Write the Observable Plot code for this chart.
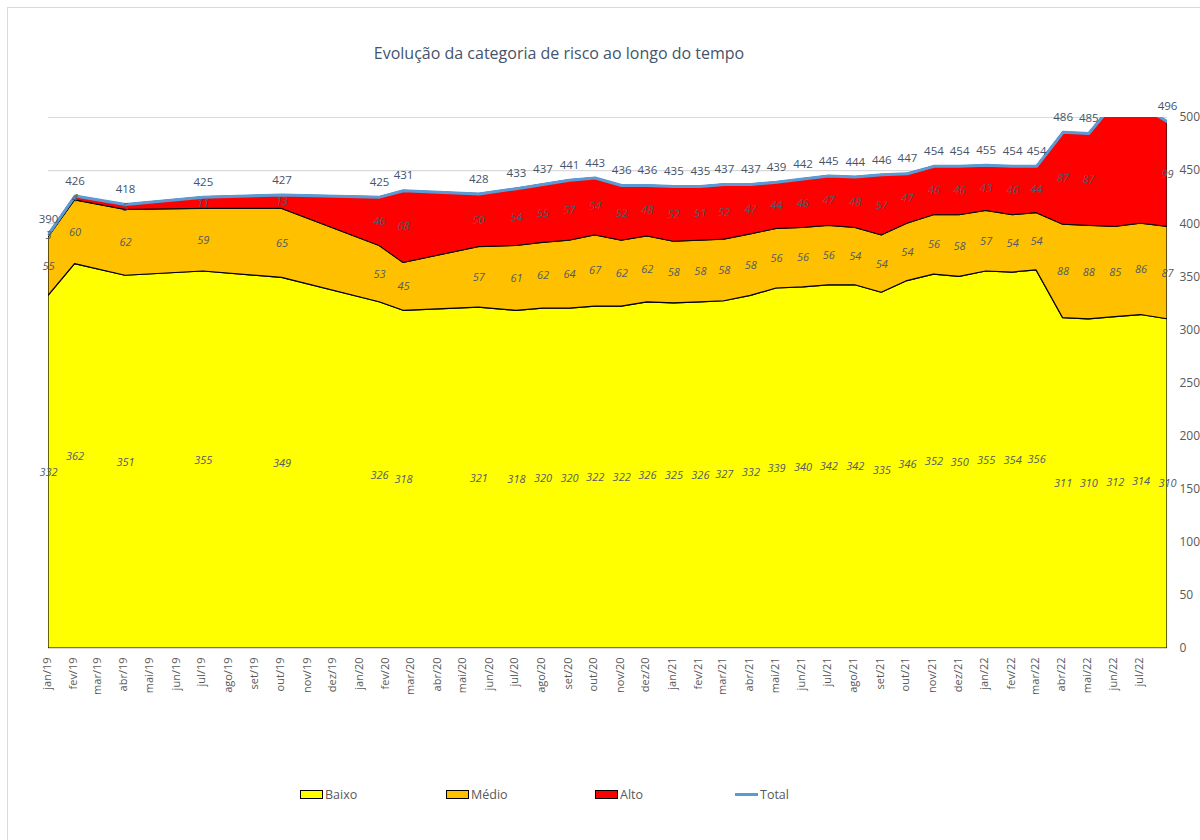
<!DOCTYPE html>
<html>
<head>
<meta charset="utf-8">
<script src="https://cdn.jsdelivr.net/npm/d3@7"></script>
<script src="https://cdn.jsdelivr.net/npm/@observablehq/plot@0.6"></script>
<style>
  html, body { margin: 0; padding: 0; background: #fff; }
  #wrap { position: relative; width: 1200px; height: 840px; overflow: hidden; font-family: "Open Sans", sans-serif; }
  #frame { position: absolute; left: 7px; top: 7px; width: 1300px; height: 900px; border: 1px solid #d9d9d9; box-sizing: border-box; }
  #title { position: absolute; left: 0; width: 1118px; top: 42px; text-align: center; font-size: 16px; color: #44546a; }
  #chart { position: absolute; left: 0; top: 0; }
  .leg { position: absolute; top: 786px; font-size: 12.5px; color: #595959; display: flex; align-items: center; }
  .sw { width: 21px; height: 7px; border: 1px solid #000; margin-right: 2px; }
  .ln { width: 23px; height: 3px; background: #5b9bd5; margin-right: 2px; }
</style>
</head>
<body>
<div id="wrap">
  <div id="frame"></div>
  <div id="chart"></div>
  <div id="title">Evolução da categoria de risco ao longo do tempo</div>
  <div class="leg" style="left:300px"><div class="sw" style="background:#ffff00"></div>Baixo</div>
  <div class="leg" style="left:446px"><div class="sw" style="background:#ffc000"></div>Médio</div>
  <div class="leg" style="left:595px"><div class="sw" style="background:#ff0000"></div>Alto</div>
  <div class="leg" style="left:735px"><div class="ln"></div>Total</div>
</div>
<script>
const dates = [
  "2019-01-01","2019-02-01","2019-04-01","2019-07-01","2019-10-01",
  "2020-01-23","2020-02-20","2020-05-18",
  "2020-07-01","2020-08-01","2020-09-01","2020-10-01","2020-11-01","2020-12-01",
  "2021-01-01","2021-02-01","2021-03-01","2021-04-01","2021-05-01","2021-06-01",
  "2021-07-01","2021-08-01","2021-09-01","2021-10-01","2021-11-01","2021-12-01",
  "2022-01-01","2022-02-01","2022-03-01","2022-04-01","2022-05-01","2022-06-01","2022-07-01","2022-08-01"
];
const baixo = [332,362,351,355,349,326,318,321, 318,320,320,322,322,326, 325,326,327,332,339,340,342,342,335,346,352,350, 355,354,356,311,310,312,314,310];
const medio = [55,60,62,59,65,53,45,57, 61,62,64,67,62,62, 58,58,58,58,56,56,56,54,54,54,56,58, 57,54,54,88,88,85,86,87];
const alto  = [3,4,5,11,13,46,68,50, 54,55,57,54,52,48, 52,51,52,47,44,46,47,48,57,47,46,46, 43,46,44,87,87,118,111,99];
const total = [390,426,418,425,427,425,431,428, 433,437,441,443,436,436, 435,435,437,437,439,442,445,444,446,447,454,454, 455,454,454,486,485,515,511,496];

const monthNames = ["jan","fev","mar","abr","mai","jun","jul","ago","set","out","nov","dez"];
const yTicks = [0,50,100,150,200,250,300,350,400,450,500];
const xStart = "2019-01-01", xEnd = "2022-08-01";

const rows = dates.map((d, i) => ({
  date: new Date(d + "T00:00:00Z"),
  b: baixo[i], m: medio[i], a: alto[i], t: total[i]
}));
const monthTicks = d3.utcMonth.range(new Date(xStart + "T00:00:00Z"), new Date(xEnd + "T00:00:00Z"));
const fmtMonth = d => monthNames[d.getUTCMonth()] + "/" + String(d.getUTCFullYear()).slice(2);

const labelFont = {fontFamily: "Open Sans", fontSize: 11};
const bandText = {fill: "#505a6b", fontStyle: "italic", ...labelFont};
const visible = rows.filter(r => r.t <= 500);

const chart = Plot.plot({
  width: 1200,
  height: 840,
  marginLeft: 48,
  marginRight: 33,
  marginTop: 117,
  marginBottom: 192,
  x: {type: "utc", domain: [new Date(xStart + "T00:00:00Z"), new Date(xEnd + "T00:00:00Z")], axis: null},
  y: {domain: [0, 500], axis: null},
  style: {background: "transparent", fontFamily: "Open Sans"},
  marks: [
    Plot.ruleY(yTicks, {stroke: "#d9d9d9", strokeWidth: 1.2}),
    Plot.areaY(rows, {x: "date", y1: 0, y2: "b", fill: "#ffff00", stroke: "#000", strokeWidth: 1.2, clip: true}),
    Plot.areaY(rows, {x: "date", y1: "b", y2: r => r.b + r.m, fill: "#ffc000", stroke: "#000", strokeWidth: 1.2, clip: true}),
    Plot.areaY(rows, {x: "date", y1: r => r.b + r.m, y2: "t", fill: "#ff0000", stroke: "#000", strokeWidth: 1, clip: true}),
    Plot.lineY(rows, {x: "date", y: "t", stroke: "#5b9bd5", strokeWidth: 3, clip: true}),
    Plot.text(rows, {x: "date", y: r => r.b / 2, text: r => String(r.b), ...bandText}),
    Plot.text(rows, {x: "date", y: r => r.b + r.m / 2, text: r => String(r.m), ...bandText}),
    Plot.text(visible, {x: "date", y: r => r.b + r.m + r.a / 2, text: r => String(r.a), ...bandText}),
    Plot.text(visible, {x: "date", y: "t", dy: -15, text: r => String(r.t), fill: "#44546a", ...labelFont, fontSize: 11.5}),
    Plot.text(yTicks, {y: d => d, frameAnchor: "right", dx: 12, textAnchor: "start", text: d => String(d), fill: "#595959", fontFamily: "Open Sans", fontSize: 12}),
    Plot.text(monthTicks, {x: d => d, frameAnchor: "bottom", dx: 2, dy: 9, rotate: -90, textAnchor: "end", text: fmtMonth, fill: "#595959", fontFamily: "Open Sans", fontSize: 11})
  ]
});
document.getElementById("chart").appendChild(chart);
</script>
</body>
</html>
